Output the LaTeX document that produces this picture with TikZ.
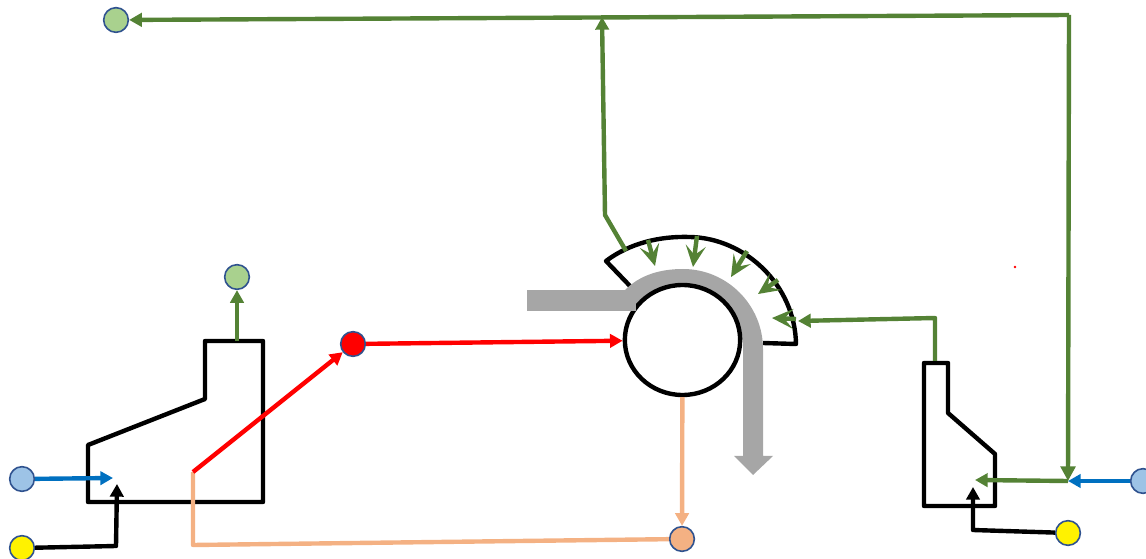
\documentclass[tikz,border=0pt]{standalone}
\usetikzlibrary{arrows.meta,shapes.geometric}
\definecolor{lgreen}{HTML}{548235}
\definecolor{fgreen}{HTML}{A9D18E}
\definecolor{fblue}{HTML}{9DC3E6}
\definecolor{lblue}{HTML}{0070C0}
\definecolor{peach}{HTML}{F4B183}
\definecolor{edgeblue}{HTML}{2F528F}
\definecolor{band}{HTML}{A6A6A6}
\tikzset{
  port/.style={circle,draw=edgeblue,line width=1.2pt,minimum size=18.5pt,inner sep=0pt},
  body/.style={draw=black,line width=3.3pt,line join=round},
  tipa/.style={-{Triangle[length=11pt,width=11pt]}},
  tipb/.style={-{Triangle[length=9.5pt,width=10pt]}},
  gline/.style={draw=lgreen,line width=3.3pt,line join=round},
  heat/.style={draw=lgreen,line width=3.3pt,-{Stealth[length=16pt,width=15pt,inset=7pt]}},
  bline/.style={draw=lblue,line width=3.3pt},
  rline/.style={draw=red,line width=3.3pt},
  pline/.style={draw=peach,line width=3.3pt,line join=round},
  kline/.style={draw=black,line width=3.3pt,line join=round},
}
\begin{document}
\begin{tikzpicture}[x=0.75pt,y=-0.75pt]
\useasboundingbox (0,0) rectangle (1146,559);
% ports
\node[port,fill=fgreen] (gOut) at (116,20) {};
\node[port,fill=fgreen] (gStack) at (237,277) {};
\node[port,fill=red] (rMid) at (353,344) {};
\node[port,fill=fblue] (bL) at (22,479) {};
\node[port,fill=yellow] (yL) at (22,548) {};
\node[port,fill=fblue] (bR) at (1143,481) {};
\node[port,fill=yellow] (yR) at (1068,533) {};
\node[port,fill=peach] (pOut) at (682,539) {};
% bodies
\draw[body] (88,445) -- (205,399) -- (205,341) -- (263,341) -- (263,502) -- (88,502) -- cycle;
\draw[body] (924,363) -- (948,363) -- (948,413) -- (995,454) -- (995,506) -- (924,506) -- cycle;
\draw[body] (630,286) -- (606,261) .. controls (630,243) and (660,236) .. (690,237) .. controls (745,238) and (795,285) .. (796,344) -- (763,343);
% band and drum
\fill[band] (625,290) .. controls (640,275) and (660,269) .. (683,269) .. controls (727,269) and (763,305) .. (763,349) -- (763,456) -- (773,456) -- (753,475) -- (734,456) -- (743,456) -- (743,340) -- (683,300) -- (636,311) -- cycle;
\node[ellipse,draw=black,fill=white,line width=3.3pt,minimum width=86.5pt,minimum height=82.5pt,inner sep=0pt] (drum) at (682.5,340) {};
\fill[band] (527,290) rectangle (636,311);
% coordinates
\coordinate (c1) at (113,478);
\coordinate (c2) at (117,484);
\coordinate (c2a) at (116,546);
\coordinate (sTop) at (237,341);
\coordinate (rS) at (193,472);
\coordinate (pC) at (193,545);
\coordinate (tR) at (1069,15);
\coordinate (tJ) at (602,17);
\coordinate (j2) at (605,215);
\coordinate (j1) at (626,251);
\coordinate (jR) at (1068,481);
\coordinate (rT) at (975,480);
\coordinate (k1) at (973,530);
\coordinate (k2) at (973,487);
\coordinate (hS) at (935,361);
\coordinate (hC) at (935,318);
\coordinate (hE) at (798,321);
% left connectors
\draw[bline,tipb] (bL) -- (c1);
\draw[kline,tipb] (yL) -- (c2a) -- (c2);
\draw[gline,tipb] (sTop) -- (gStack);
\draw[pline] (rS) -- (pC) -- (pOut);
\draw[rline,tipb] (rS) -- (rMid);
\draw[rline,tipb] (rMid) -- (drum);
\draw[pline,tipb] (drum) -- (pOut);
% top lines
\draw[gline,tipb] (tR) -- (gOut);
\draw[gline,tipb] (j1) -- (j2) -- (tJ);
\draw[gline,tipa] (tR) -- (jR);
\draw[gline,tipb] (jR) -- (rT);
\draw[bline,tipb] (bR) -- (jR);
\draw[kline,tipb] (yR) -- (k1) -- (k2);
\draw[gline,tipb] (hS) -- (hC) -- (hE);
% heat arrows
\draw[heat] (648,240) -- (655,266);
\draw[heat] (697,236) -- (693,267);
\draw[heat] (747,251) -- (731,277);
\draw[heat] (778,280) -- (758,294);
\draw[heat] (796,319) -- (772,318);
\fill[red] (1015,267) circle (1pt);
\end{tikzpicture}
\end{document}
